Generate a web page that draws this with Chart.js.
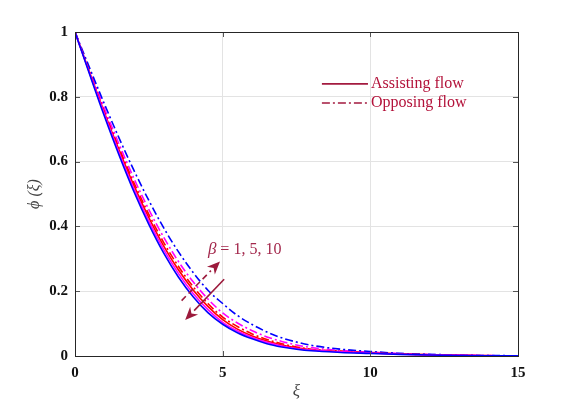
<!DOCTYPE html>
<html>
<head>
<meta charset="utf-8">
<script src="https://cdn.jsdelivr.net/npm/chart.js@4/dist/chart.umd.min.js"></script>
<style>
html,body{margin:0;padding:0;background:#fff;}
#wrap{width:572px;height:402px;position:relative;}
</style>
</head>
<body>
<div id="wrap"><canvas id="c" width="572" height="402"></canvas></div>
<script>
// ---- data ----
const xi = [0,0.5,1,1.5,2,2.5,3,3.5,4,4.5,5,5.5,6,6.5,7,7.5,8,9,10,11,12,13,14,15];
// Assisting flow (solid)
const assistBeta1  = [1,0.874,0.750,0.634,0.525,0.427,0.340,0.266,0.204,0.153,0.112,0.083,0.062,0.046,0.034,0.025,0.019,0.0135,0.0095,0.006,0.0035,0.002,0.001,0.0004];
const assistBeta5  = [1,0.871,0.745,0.626,0.515,0.416,0.329,0.255,0.193,0.143,0.104,0.077,0.057,0.042,0.031,0.023,0.018,0.013,0.009,0.0055,0.0033,0.0018,0.0009,0.0004];
const assistBeta10 = [1,0.868,0.739,0.618,0.506,0.406,0.318,0.244,0.183,0.134,0.098,0.072,0.053,0.038,0.028,0.021,0.016,0.011,0.008,0.005,0.003,0.0015,0.0008,0.0003];
// Opposing flow (dash-dot)
const opposeBeta1  = [1,0.876,0.756,0.641,0.534,0.437,0.351,0.277,0.214,0.162,0.120,0.091,0.068,0.051,0.038,0.028,0.021,0.015,0.0105,0.0065,0.004,0.0022,0.0011,0.0005];
const opposeBeta5  = [1,0.880,0.763,0.652,0.547,0.452,0.367,0.292,0.229,0.176,0.133,0.102,0.078,0.059,0.045,0.034,0.026,0.017,0.012,0.0075,0.0045,0.0025,0.0012,0.0005];
const opposeBeta10 = [1,0.888,0.777,0.671,0.572,0.480,0.396,0.322,0.258,0.203,0.162,0.125,0.097,0.074,0.056,0.043,0.033,0.021,0.014,0.008,0.005,0.003,0.0015,0.0007];
const yTicks = [0,0.2,0.4,0.6,0.8,1];
const xTicks = [0,5,10,15];
const legendLabels = ["Assisting flow","Opposing flow"];
const betaLabel = "= 1, 5, 10";

// ---- styles ----
const BLUE='#0000ff', MAG='#ff00ff', RED='#ff0000';
const DASHDOT=[8,3,2,3];
const DARKRED='#a31a3f', TEXTRED='#b3123a';
const TICKFONT={family:'"Liberation Serif", serif',weight:'bold',size:15};

function pts(arr){ return xi.map((x,i)=>({x:x,y:arr[i]})); }
function ds(arr,color,dash){
  return {data:pts(arr),borderColor:color,backgroundColor:color,borderWidth:1.6,
    borderDash:dash||[],pointRadius:0,showLine:true,cubicInterpolationMode:'monotone',fill:false};
}

const overlay = {
  id:'overlay',
  afterDraw(chart){
    const {ctx, chartArea:a, scales:{x,y}} = chart;
    ctx.save();
    // inward tick marks
    ctx.strokeStyle='#555'; ctx.lineWidth=1;
    yTicks.forEach(v=>{
      const py=Math.round(y.getPixelForValue(v))+0.5;
      ctx.beginPath(); ctx.moveTo(a.left,py); ctx.lineTo(a.left+5,py); ctx.stroke();
      ctx.beginPath(); ctx.moveTo(a.right,py); ctx.lineTo(a.right-5,py); ctx.stroke();
    });
    xTicks.forEach(v=>{
      const px=Math.round(x.getPixelForValue(v))+0.5;
      ctx.beginPath(); ctx.moveTo(px,a.bottom); ctx.lineTo(px,a.bottom-5); ctx.stroke();
      ctx.beginPath(); ctx.moveTo(px,a.top); ctx.lineTo(px,a.top+5); ctx.stroke();
    });
    // frame
    ctx.strokeStyle='#262626'; ctx.lineWidth=1;
    ctx.strokeRect(Math.round(a.left)+0.5, Math.round(a.top)+0.5, Math.round(a.right-a.left), Math.round(a.bottom-a.top));
    // legend
    const lx0=x.getPixelForValue(8.36), lx1=x.getPixelForValue(9.92);
    const ly=[y.getPixelForValue(0.84), y.getPixelForValue(0.781)];
    ctx.lineWidth=1.6; ctx.strokeStyle=DARKRED;
    ctx.setLineDash([]);
    ctx.beginPath(); ctx.moveTo(lx0,ly[0]); ctx.lineTo(lx1,ly[0]); ctx.stroke();
    ctx.setLineDash(DASHDOT);
    ctx.beginPath(); ctx.moveTo(lx0,ly[1]); ctx.lineTo(lx1,ly[1]); ctx.stroke();
    ctx.setLineDash([]);
    ctx.fillStyle=TEXTRED; ctx.font='16px "Liberation Serif", serif';
    ctx.textBaseline='middle'; ctx.textAlign='left';
    ctx.fillText(legendLabels[0], lx1+3, ly[0]);
    ctx.fillText(legendLabels[1], lx1+3, ly[1]);
    // beta annotation
    const bx=x.getPixelForValue(4.5), by=y.getPixelForValue(0.315);
    ctx.fillStyle='#a3284c';
    ctx.font='italic 17px "Liberation Serif", serif';
    ctx.textBaseline='alphabetic';
    ctx.fillText('\u03B2', bx, by);
    const bw=ctx.measureText('\u03B2').width;
    ctx.font='16px "Liberation Serif", serif';
    ctx.fillText(' '+betaLabel, bx+bw, by);
    // arrows
    function arrow(x0,y0,x1,y1,dash){
      const p0={x:x.getPixelForValue(x0),y:y.getPixelForValue(y0)};
      const p1={x:x.getPixelForValue(x1),y:y.getPixelForValue(y1)};
      const ang=Math.atan2(p1.y-p0.y,p1.x-p0.x);
      const hl=13, hw=5.5;
      const bxp=p1.x-hl*Math.cos(ang), byp=p1.y-hl*Math.sin(ang);
      ctx.strokeStyle='#9c1a3c'; ctx.fillStyle='#9c1a3c'; ctx.lineWidth=1.6;
      ctx.setLineDash(dash);
      ctx.beginPath(); ctx.moveTo(p0.x,p0.y); ctx.lineTo(bxp,byp); ctx.stroke();
      ctx.setLineDash([]);
      ctx.beginPath();
      ctx.moveTo(p1.x,p1.y);
      ctx.lineTo(bxp+hw*Math.sin(ang), byp-hw*Math.cos(ang));
      ctx.lineTo(p1.x-hl*0.7*Math.cos(ang), p1.y-hl*0.7*Math.sin(ang));
      ctx.lineTo(bxp-hw*Math.sin(ang), byp+hw*Math.cos(ang));
      ctx.closePath(); ctx.fill();
    }
    arrow(3.61,0.171,4.91,0.292,[6,4]);
    arrow(5.05,0.237,3.73,0.111,[]);
    // axis titles
    ctx.fillStyle='#444';
    ctx.font='italic 17px "Liberation Serif", serif';
    ctx.textAlign='center'; ctx.textBaseline='middle';
    ctx.fillText('\u03BE', (a.left+a.right)/2, 392);
    ctx.save();
    ctx.translate(35,(a.top+a.bottom)/2);
    ctx.rotate(-Math.PI/2);
    ctx.font='italic 16px "Liberation Serif", serif';
    ctx.fillText('\u03D5 (\u03BE)',0,0);
    ctx.restore();
    ctx.restore();
  }
};

new Chart(document.getElementById('c'),{
  type:'scatter',
  data:{datasets:[
    ds(assistBeta10,BLUE), ds(assistBeta5,MAG), ds(assistBeta1,RED),
    ds(opposeBeta10,BLUE,DASHDOT), ds(opposeBeta5,MAG,DASHDOT), ds(opposeBeta1,RED,DASHDOT)
  ]},
  options:{
    responsive:false, animation:false, devicePixelRatio:1,
    layout:{padding:{left:0,top:32,right:54,bottom:0}},
    plugins:{legend:{display:false},tooltip:{enabled:false}},
    scales:{
      x:{type:'linear',min:0,max:15,
        afterFit(s){s.height=46;},
        afterBuildTicks(s){s.ticks=xTicks.map(v=>({value:v}));},
        grid:{color:'#e3e3e3',drawTicks:false},
        border:{color:'#262626'},
        ticks:{padding:8,color:'#111',font:TICKFONT,callback:v=>String(v)}
      },
      y:{type:'linear',min:0,max:1,
        afterFit(s){s.width=75;},
        afterBuildTicks(s){s.ticks=yTicks.map(v=>({value:v}));},
        grid:{color:'#e3e3e3',drawTicks:false},
        border:{color:'#262626'},
        ticks:{padding:7,color:'#111',font:TICKFONT,callback:v=>String(v)}
      }
    }
  },
  plugins:[overlay]
});
</script>
</body>
</html>
